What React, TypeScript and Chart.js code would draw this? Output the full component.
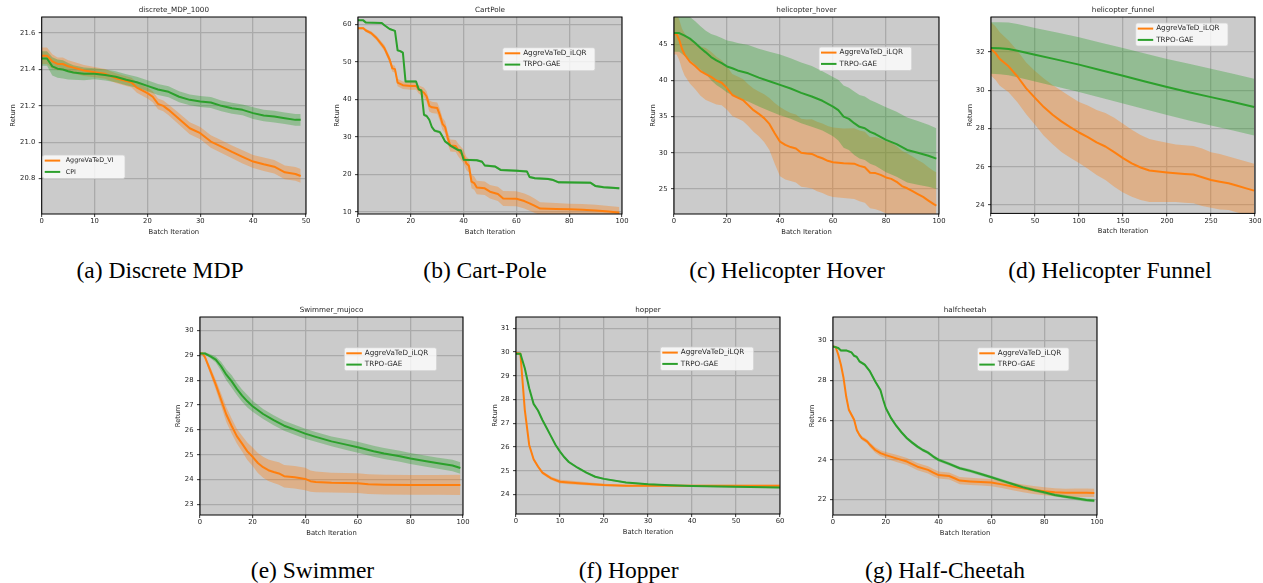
import { useEffect, useRef } from "react";
import { Chart, registerables } from "chart.js";

Chart.register(...registerables);

const ORANGE = "#ff7f0e";
const GREEN = "#2ca02c";
const ORANGE_BAND = "rgba(255,127,14,0.35)";
const GREEN_BAND = "rgba(44,160,44,0.35)";
const PLOT_BG = "#cbcbcb";
const GRID = "#aaaaaa";
const INK = "#262626";
const SANS = '"DejaVu Sans", "Liberation Sans", sans-serif';
const SERIF = '"Liberation Serif", "DejaVu Serif", serif';

// ---------- (a) discrete_MDP_1000 ----------
const aOrangeX = [0, 1, 2, 3, 4, 5, 6, 8, 10, 12, 14, 16, 17, 18, 20, 21, 22, 23, 24, 26, 28, 30, 32, 34, 36, 38, 40, 42, 44, 46, 48, 49];
const aOrangeY = [21.475, 21.475, 21.444, 21.43, 21.43, 21.417, 21.41, 21.394, 21.385, 21.376, 21.352, 21.336, 21.328, 21.3, 21.27, 21.25, 21.211, 21.2, 21.178, 21.128, 21.077, 21.05, 21.004, 20.976, 20.947, 20.92, 20.894, 20.879, 20.866, 20.835, 20.826, 20.815];
const aOrangeSd = [0.045, 0.045, 0.04, 0.035, 0.035, 0.033, 0.032, 0.03, 0.028, 0.027, 0.027, 0.027, 0.027, 0.028, 0.03, 0.03, 0.03, 0.03, 0.03, 0.032, 0.033, 0.034, 0.034, 0.035, 0.035, 0.036, 0.036, 0.037, 0.037, 0.038, 0.038, 0.038];
const aGreenX = [0, 1, 2, 3, 4, 5, 6, 8, 10, 12, 14, 16, 18, 20, 22, 24, 26, 28, 30, 32, 34, 36, 38, 40, 42, 44, 46, 48, 49];
const aGreenY = [21.46, 21.46, 21.417, 21.404, 21.4, 21.39, 21.383, 21.376, 21.376, 21.369, 21.36, 21.343, 21.33, 21.31, 21.29, 21.277, 21.25, 21.233, 21.224, 21.218, 21.2, 21.187, 21.178, 21.16, 21.147, 21.141, 21.132, 21.123, 21.123];
const aGreenSd = [0.04, 0.04, 0.05, 0.05, 0.05, 0.045, 0.04, 0.035, 0.03, 0.03, 0.03, 0.03, 0.03, 0.03, 0.03, 0.03, 0.03, 0.03, 0.03, 0.03, 0.03, 0.03, 0.03, 0.032, 0.032, 0.032, 0.032, 0.032, 0.032];

// ---------- (b) CartPole ----------
const bOrangeX = [0, 2, 3, 5, 7, 9, 10, 12, 13, 14, 15, 17, 20, 22, 23, 25, 26, 27, 28, 30, 31, 32, 33, 34, 35, 37, 38, 40, 41, 42, 43, 44, 45, 48, 50, 53, 55, 60, 63, 65, 67, 69, 75, 80, 85, 90, 95, 99];
const bOrangeY = [59, 59, 58.4, 57.7, 56.4, 54.6, 53.7, 50.6, 48.3, 48.1, 44.5, 43.8, 43.6, 43.6, 42.7, 41.8, 40.8, 38.3, 37.9, 37.7, 35.9, 33.5, 32.6, 29.7, 27.7, 27.6, 26.5, 24.8, 23.0, 22.3, 18.1, 17.7, 16.5, 16.3, 15.4, 14.8, 13.6, 13.5, 12.9, 12.3, 11.6, 10.9, 10.8, 10.7, 10.6, 10.4, 10.1, 9.8];
const bOrangeSd = [0.3, 0.3, 0.4, 0.5, 0.6, 0.7, 0.8, 0.9, 0.9, 0.9, 1.0, 1.0, 1.0, 1.0, 1.1, 1.3, 1.4, 1.5, 1.5, 1.5, 1.6, 1.6, 1.6, 1.6, 1.6, 1.6, 1.7, 1.8, 1.8, 1.8, 1.8, 1.8, 1.8, 1.8, 1.8, 1.9, 2.0, 2.0, 2.0, 2.0, 1.9, 1.7, 1.6, 1.5, 1.5, 1.5, 1.5, 1.5];
const bGreenX = [0, 2, 3, 9, 10, 12, 14, 15, 16, 17, 18, 22, 23, 24, 25, 26, 27, 28, 29, 31, 32, 33, 34, 35, 38, 39, 40, 45, 47, 48, 52, 54, 60, 64, 65, 67, 72, 74, 76, 88, 90, 93, 99];
const bGreenY = [61.1, 61.1, 60.5, 60.4, 59.8, 58.8, 58.3, 53.1, 52.9, 52.5, 44.8, 44.8, 42.7, 42.4, 35.9, 35.6, 34.6, 32.6, 31.7, 31.3, 30.1, 28.8, 28.3, 27.7, 26.5, 26.4, 23.9, 23.8, 23.4, 22.4, 22.1, 21.2, 21.0, 20.8, 19.3, 19.0, 18.8, 18.5, 17.9, 17.8, 16.9, 16.6, 16.3];
const bGreenSd = [0.2, 0.2, 0.2, 0.2, 0.2, 0.25, 0.25, 0.3, 0.3, 0.3, 0.3, 0.3, 0.3, 0.3, 0.35, 0.35, 0.35, 0.35, 0.35, 0.35, 0.35, 0.35, 0.35, 0.35, 0.35, 0.35, 0.3, 0.3, 0.3, 0.3, 0.3, 0.3, 0.3, 0.3, 0.3, 0.3, 0.3, 0.3, 0.3, 0.3, 0.3, 0.3, 0.3];

// ---------- (c) helicopter_hover ----------
const cOrangeX = [0, 1, 2, 3, 4, 6, 8, 10, 12, 14, 16, 18, 20, 22, 24, 26, 28, 30, 32, 34, 36, 38, 40, 42, 44, 46, 48, 50, 52, 54, 56, 58, 60, 64, 68, 70, 72, 74, 76, 78, 80, 82, 84, 86, 88, 90, 92, 94, 96, 98, 99];
const cOrangeY = [46.4, 46.4, 45.6, 44.4, 43.6, 42.6, 42.0, 41.3, 40.9, 40.5, 40.0, 39.7, 38.95, 38.0, 37.65, 37.3, 36.6, 35.9, 35.4, 34.8, 34.0, 32.7, 31.55, 31.1, 30.8, 30.6, 30.0, 29.9, 29.85, 29.5, 29.25, 28.9, 28.7, 28.55, 28.5, 28.2, 28.0, 27.25, 27.2, 26.95, 26.6, 26.4, 26.0, 25.4, 25.1, 24.7, 24.3, 23.9, 23.4, 22.9, 22.7];
const cOrangeSd = [2.8, 2.8, 2.8, 2.8, 2.9, 3.0, 3.2, 3.4, 3.6, 3.5, 3.3, 3.1, 3.0, 2.9, 2.9, 2.9, 2.9, 3.0, 3.1, 3.3, 3.6, 4.2, 4.8, 4.8, 4.7, 4.7, 4.7, 4.7, 4.8, 4.8, 4.8, 4.8, 4.8, 4.8, 4.9, 4.9, 4.9, 4.9, 5.0, 5.0, 5.0, 5.0, 4.9, 4.9, 4.8, 4.8, 4.7, 4.7, 4.6, 4.6, 4.6];
const cGreenX = [0, 2, 4, 6, 8, 10, 12, 14, 16, 18, 20, 22, 24, 28, 32, 36, 40, 44, 48, 52, 56, 60, 62, 64, 66, 68, 70, 72, 74, 76, 80, 84, 88, 92, 96, 99];
const cGreenY = [46.57, 46.57, 46.2, 45.8, 45.2, 44.5, 43.9, 43.25, 42.8, 42.4, 41.95, 41.7, 41.4, 41.0, 40.4, 39.9, 39.4, 38.9, 38.3, 37.8, 37.2, 36.4, 35.9, 35.0, 34.7, 34.1, 33.6, 33.4, 32.9, 32.6, 31.8, 31.2, 30.4, 30.0, 29.6, 29.2];
const cGreenSd = [2.6, 2.6, 2.8, 3.0, 3.0, 3.0, 3.0, 3.2, 3.4, 3.5, 3.6, 3.7, 3.8, 3.9, 4.0, 4.1, 4.2, 4.2, 4.2, 4.2, 4.1, 4.1, 4.2, 4.3, 4.3, 4.4, 4.4, 4.4, 4.4, 4.4, 4.5, 4.5, 4.5, 4.4, 4.3, 4.2];

// ---------- (d) helicopter_funnel ----------
const dOrangeX = [0, 5, 10, 20, 30, 40, 50, 60, 70, 80, 90, 100, 110, 120, 130, 140, 150, 160, 170, 180, 190, 200, 210, 220, 230, 240, 250, 260, 270, 280, 290, 299];
const dOrangeY = [32.16, 31.95, 31.63, 31.25, 30.72, 30.1, 29.6, 29.12, 28.72, 28.37, 28.07, 27.79, 27.55, 27.27, 27.06, 26.76, 26.45, 26.18, 25.96, 25.8, 25.75, 25.7, 25.66, 25.62, 25.59, 25.45, 25.31, 25.22, 25.14, 25.01, 24.87, 24.75];
const dOrangeSd = [1.4, 1.4, 1.4, 1.35, 1.35, 1.35, 1.4, 1.5, 1.55, 1.6, 1.6, 1.6, 1.65, 1.7, 1.75, 1.8, 1.8, 1.75, 1.7, 1.65, 1.6, 1.55, 1.5, 1.5, 1.5, 1.5, 1.45, 1.45, 1.4, 1.4, 1.4, 1.4];
const dGreenX = [0, 10, 20, 30, 50, 75, 100, 125, 150, 175, 200, 225, 250, 275, 299];
const dGreenY = [32.21, 32.2, 32.16, 32.07, 31.86, 31.6, 31.34, 31.05, 30.76, 30.46, 30.17, 29.9, 29.64, 29.38, 29.12];
const dGreenSd = [1.35, 1.36, 1.38, 1.39, 1.4, 1.42, 1.43, 1.44, 1.45, 1.46, 1.47, 1.48, 1.48, 1.48, 1.48];

// ---------- (e) Swimmer_mujoco ----------
const eOrangeX = [0, 1, 2, 4, 6, 8, 10, 12, 14, 16, 18, 20, 22, 24, 26, 28, 30, 32, 36, 40, 42, 44, 50, 60, 64, 70, 80, 90, 99];
const eOrangeY = [29.07, 29.07, 28.9, 28.36, 27.82, 27.22, 26.62, 26.17, 25.75, 25.45, 25.14, 24.92, 24.67, 24.5, 24.38, 24.31, 24.25, 24.14, 24.1, 24.03, 23.94, 23.91, 23.88, 23.86, 23.82, 23.8, 23.79, 23.79, 23.79];
const eOrangeSd = [0.05, 0.05, 0.08, 0.15, 0.2, 0.25, 0.3, 0.3, 0.3, 0.32, 0.35, 0.37, 0.4, 0.42, 0.43, 0.44, 0.45, 0.45, 0.45, 0.45, 0.43, 0.42, 0.4, 0.4, 0.4, 0.4, 0.4, 0.4, 0.41];
const eGreenX = [0, 2, 4, 6, 8, 10, 12, 14, 16, 18, 20, 24, 28, 32, 36, 40, 44, 50, 56, 60, 66, 70, 76, 80, 86, 90, 96, 99];
const eGreenY = [29.07, 29.07, 28.96, 28.83, 28.56, 28.22, 27.96, 27.65, 27.38, 27.15, 26.95, 26.64, 26.39, 26.17, 26.01, 25.85, 25.72, 25.54, 25.4, 25.3, 25.14, 25.05, 24.94, 24.85, 24.74, 24.67, 24.57, 24.47];
const eGreenSd = [0.03, 0.05, 0.08, 0.12, 0.18, 0.22, 0.25, 0.25, 0.25, 0.25, 0.22, 0.2, 0.2, 0.2, 0.2, 0.2, 0.2, 0.2, 0.22, 0.22, 0.22, 0.22, 0.22, 0.22, 0.22, 0.22, 0.23, 0.23];

// ---------- (f) hopper ----------
const fOrangeX = [0, 1, 2, 3, 4, 5, 6, 8, 10, 12, 15, 20, 25, 30, 40, 50, 60];
const fOrangeY = [29.96, 29.93, 27.57, 26.09, 25.49, 25.18, 24.92, 24.68, 24.54, 24.51, 24.47, 24.4, 24.37, 24.37, 24.37, 24.37, 24.37];
const fOrangeSd = [0.05, 0.05, 0.08, 0.08, 0.07, 0.06, 0.06, 0.07, 0.08, 0.08, 0.07, 0.05, 0.04, 0.04, 0.04, 0.04, 0.04];
const fGreenX = [0, 1, 2, 3, 4, 5, 6, 7, 8, 9, 10, 11, 12, 14, 16, 18, 20, 25, 30, 35, 40, 50, 60];
const fGreenY = [29.93, 29.93, 29.32, 28.48, 27.82, 27.54, 27.14, 26.79, 26.44, 26.09, 25.81, 25.57, 25.37, 25.13, 24.92, 24.75, 24.66, 24.51, 24.43, 24.39, 24.36, 24.33, 24.3];
const fGreenSd = [0.03, 0.03, 0.04, 0.05, 0.05, 0.05, 0.05, 0.05, 0.05, 0.05, 0.05, 0.05, 0.05, 0.04, 0.04, 0.04, 0.04, 0.03, 0.03, 0.03, 0.03, 0.03, 0.03];

// ---------- (g) halfcheetah ----------
const gOrangeX = [0, 1, 2, 3, 4, 5, 6, 7, 8, 9, 10, 11, 12, 13, 14, 16, 18, 20, 24, 28, 32, 36, 38, 40, 44, 46, 48, 52, 56, 60, 64, 68, 72, 76, 80, 84, 88, 92, 96, 99];
const gOrangeY = [29.71, 29.68, 29.29, 28.79, 28.12, 27.19, 26.52, 26.27, 26.02, 25.51, 25.26, 25.09, 25.01, 24.92, 24.76, 24.5, 24.34, 24.24, 24.08, 23.92, 23.66, 23.5, 23.36, 23.24, 23.19, 23.08, 22.96, 22.92, 22.89, 22.86, 22.77, 22.66, 22.57, 22.49, 22.42, 22.37, 22.35, 22.35, 22.35, 22.34];
const gOrangeSd = [0.03, 0.03, 0.05, 0.07, 0.08, 0.1, 0.1, 0.1, 0.1, 0.1, 0.1, 0.1, 0.1, 0.1, 0.12, 0.14, 0.15, 0.16, 0.18, 0.18, 0.18, 0.18, 0.18, 0.18, 0.18, 0.18, 0.18, 0.18, 0.18, 0.18, 0.18, 0.19, 0.19, 0.2, 0.2, 0.2, 0.2, 0.21, 0.21, 0.21];
const gGreenX = [0, 2, 3, 5, 7, 8, 9, 10, 12, 14, 16, 18, 19, 20, 22, 24, 26, 28, 30, 32, 34, 36, 38, 40, 44, 48, 52, 56, 60, 64, 68, 72, 76, 80, 84, 88, 92, 96, 99];
const gGreenY = [29.71, 29.63, 29.51, 29.51, 29.41, 29.24, 29.18, 28.96, 28.79, 28.45, 27.95, 27.5, 27.03, 26.61, 26.1, 25.71, 25.38, 25.09, 24.87, 24.67, 24.5, 24.37, 24.17, 24.0, 23.8, 23.58, 23.45, 23.29, 23.13, 22.96, 22.79, 22.62, 22.49, 22.37, 22.24, 22.15, 22.07, 21.98, 21.95];
const gGreenSd = [0.03, 0.04, 0.05, 0.05, 0.06, 0.06, 0.06, 0.07, 0.07, 0.07, 0.08, 0.08, 0.08, 0.08, 0.08, 0.08, 0.08, 0.08, 0.08, 0.08, 0.08, 0.08, 0.08, 0.08, 0.08, 0.08, 0.08, 0.08, 0.08, 0.08, 0.08, 0.08, 0.08, 0.08, 0.08, 0.08, 0.08, 0.08, 0.08];

type Series = { name: string; color: string; band: string; x: number[]; y: number[]; sd: number[] };
type Panel = {
  title: string;
  caption: string;
  captionX: number;
  captionY: number;
  plot: [number, number, number, number];
  labelX: number;
  xMax: number;
  xStep: number;
  yMin: number;
  yMax: number;
  yStep: number;
  yDec: number;
  legend: { x: number; y: number; w: number; h: number; font: number; text: number };
  series: Series[];
};

const orange = (name: string, x: number[], y: number[], sd: number[]): Series => ({ name, color: ORANGE, band: ORANGE_BAND, x, y, sd });
const green = (name: string, x: number[], y: number[], sd: number[]): Series => ({ name, color: GREEN, band: GREEN_BAND, x, y, sd });

const PANELS: Panel[] = [
  {
    title: "discrete_MDP_1000", caption: "(a) Discrete MDP", captionX: 160, captionY: 259,
    plot: [41.7, 17, 306, 214], labelX: 13.3,
    xMax: 50, xStep: 10, yMin: 20.606, yMax: 21.688, yStep: 0.2, yDec: 1,
    legend: { x: 42.7, y: 155, w: 82.3, h: 23.5, font: 6.4, text: 23 },
    series: [orange("AggreVaTeD_VI", aOrangeX, aOrangeY, aOrangeSd), green("CPI", aGreenX, aGreenY, aGreenSd)],
  },
  {
    title: "CartPole", caption: "(b) Cart-Pole", captionX: 485, captionY: 259,
    plot: [358, 17, 622, 214], labelX: 336.7,
    xMax: 100, xStep: 20, yMin: 9.45, yMax: 62, yStep: 10, yDec: 0,
    legend: { x: 502.7, y: 47.7, w: 92.3, h: 23, font: 7.2, text: 20.5 },
    series: [orange("AggreVaTeD_iLQR", bOrangeX, bOrangeY, bOrangeSd), green("TRPO-GAE", bGreenX, bGreenY, bGreenSd)],
  },
  {
    title: "helicopter_hover", caption: "(c) Helicopter Hover", captionX: 787, captionY: 259,
    plot: [674, 17, 939, 214], labelX: 652.7,
    xMax: 100, xStep: 20, yMin: 21.54, yMax: 48.79, yStep: 5, yDec: 0,
    legend: { x: 819, y: 47, w: 92.7, h: 23.5, font: 7.2, text: 20.5 },
    series: [orange("AggreVaTeD_iLQR", cOrangeX, cOrangeY, cOrangeSd), green("TRPO-GAE", cGreenX, cGreenY, cGreenSd)],
  },
  {
    title: "helicopter_funnel", caption: "(d) Helicopter Funnel", captionX: 1110, captionY: 259,
    plot: [991, 17, 1255, 213.4], labelX: 970,
    xMax: 300, xStep: 50, yMin: 23.56, yMax: 33.83, yStep: 2, yDec: 0,
    legend: { x: 1135.7, y: 23, w: 92.3, h: 23, font: 7.2, text: 20.5 },
    series: [orange("AggreVaTeD_iLQR", dOrangeX, dOrangeY, dOrangeSd), green("TRPO-GAE", dGreenX, dGreenY, dGreenSd)],
  },
  {
    title: "Swimmer_mujoco", caption: "(e) Swimmer", captionX: 312.5, captionY: 559,
    plot: [200, 317, 463, 515], labelX: 178,
    xMax: 100, xStep: 20, yMin: 22.58, yMax: 30.54, yStep: 1, yDec: 0,
    legend: { x: 344.3, y: 347.7, w: 92.3, h: 23, font: 7.2, text: 20.5 },
    series: [orange("AggreVaTeD_iLQR", eOrangeX, eOrangeY, eOrangeSd), green("TRPO-GAE", eGreenX, eGreenY, eGreenSd)],
  },
  {
    title: "hopper", caption: "(f) Hopper", captionX: 628.7, captionY: 559,
    plot: [516, 317, 780, 514], labelX: 495,
    xMax: 60, xStep: 10, yMin: 23.18, yMax: 31.48, yStep: 1, yDec: 0,
    legend: { x: 660.3, y: 347, w: 93.3, h: 23.5, font: 7.2, text: 20.5 },
    series: [orange("AggreVaTeD_iLQR", fOrangeX, fOrangeY, fOrangeSd), green("TRPO-GAE", fGreenX, fGreenY, fGreenSd)],
  },
  {
    title: "halfcheetah", caption: "(g) Half-Cheetah", captionX: 945, captionY: 559,
    plot: [833, 317, 1097, 515], labelX: 811.7,
    xMax: 100, xStep: 20, yMin: 21.23, yMax: 31.19, yStep: 2, yDec: 0,
    legend: { x: 977.3, y: 347.7, w: 91.7, h: 23.3, font: 7.2, text: 20.5 },
    series: [orange("AggreVaTeD_iLQR", gOrangeX, gOrangeY, gOrangeSd), green("TRPO-GAE", gGreenX, gGreenY, gGreenSd)],
  },
];

const TOP_PAD = 17;
const X_AXIS_H = 22;

function PanelChart({ p }: { p: Panel }) {
  const ref = useRef<HTMLCanvasElement>(null);
  const [L, T, R, B] = p.plot;
  const canvasLeft = Math.round(p.labelX - 4);
  const canvasTop = T - TOP_PAD;
  const width = Math.ceil(R + 7.5 - canvasLeft);
  const plotH = B - T;
  const height = Math.round(TOP_PAD + plotH + X_AXIS_H);
  const yAxisW = L - canvasLeft;
  const xAxisH = height - TOP_PAD - plotH;
  const padRight = width - (R - canvasLeft);

  useEffect(() => {
    const canvas = ref.current;
    if (!canvas) return;
    const meanLine = (s: Series) => ({
      data: s.x.map((x, i) => ({ x, y: s.y[i] })),
      borderColor: s.color,
      borderWidth: 2,
      borderJoinStyle: "round" as const,
      pointRadius: 0,
      pointHitRadius: 0,
      fill: false,
      tension: 0,
    });
    const bandEdge = (s: Series, sign: number, filled: boolean) => ({
      data: s.x.map((x, i) => ({ x, y: s.y[i] + sign * s.sd[i] })),
      borderColor: "rgba(0,0,0,0)",
      borderWidth: 0.01,
      pointRadius: 0,
      pointHitRadius: 0,
      backgroundColor: s.band,
      fill: filled ? "+1" : false,
      tension: 0,
      clip: 0,
    });
    const [so, sg] = p.series;
    const datasets: any[] = [
      meanLine(sg),
      meanLine(so),
      bandEdge(sg, 1, true),
      bandEdge(sg, -1, false),
      bandEdge(so, 1, true),
      bandEdge(so, -1, false),
    ];

    const decor = {
      id: "panelDecor",
      beforeDraw(chart: any) {
        const { ctx, chartArea: a } = chart;
        ctx.save();
        ctx.fillStyle = PLOT_BG;
        ctx.fillRect(a.left, a.top, a.right - a.left, a.bottom - a.top);
        ctx.restore();
      },
      afterDraw(chart: any) {
        const { ctx, chartArea: a } = chart;
        ctx.save();
        ctx.strokeStyle = "#000";
        ctx.lineWidth = 1;
        ctx.strokeRect(a.left, a.top, a.right - a.left, a.bottom - a.top);

        ctx.fillStyle = INK;
        ctx.font = `7.2px ${SANS}`;
        ctx.textAlign = "center";
        ctx.textBaseline = "middle";
        ctx.fillText(p.title, (a.left + a.right) / 2, a.top - 6.7);

        const lg = p.legend;
        const bx = lg.x - canvasLeft;
        const by = lg.y - canvasTop;
        const r = 2;
        ctx.beginPath();
        ctx.moveTo(bx + r, by);
        ctx.lineTo(bx + lg.w - r, by);
        ctx.arcTo(bx + lg.w, by, bx + lg.w, by + r, r);
        ctx.lineTo(bx + lg.w, by + lg.h - r);
        ctx.arcTo(bx + lg.w, by + lg.h, bx + lg.w - r, by + lg.h, r);
        ctx.lineTo(bx + r, by + lg.h);
        ctx.arcTo(bx, by + lg.h, bx, by + lg.h - r, r);
        ctx.lineTo(bx, by + r);
        ctx.arcTo(bx, by, bx + r, by, r);
        ctx.closePath();
        ctx.fillStyle = "rgba(255,255,255,0.8)";
        ctx.fill();
        ctx.strokeStyle = "#d0d0d0";
        ctx.lineWidth = 0.8;
        ctx.stroke();

        p.series.forEach((s, i) => {
          const ry = by + 5.6 + i * 11.3;
          ctx.strokeStyle = s.color;
          ctx.lineWidth = 2;
          ctx.beginPath();
          ctx.moveTo(bx + 2, ry);
          ctx.lineTo(bx + 17.5, ry);
          ctx.stroke();
          ctx.fillStyle = INK;
          ctx.font = `${lg.font}px ${SANS}`;
          ctx.textAlign = "left";
          ctx.textBaseline = "middle";
          ctx.fillText(s.name, bx + lg.text, ry);
        });
        ctx.restore();
      },
    };

    const tickFont = { family: SANS, size: 6.8 };
    const chart = new Chart(canvas, {
      type: "line",
      data: { datasets },
      options: {
        animation: false,
        responsive: false,
        devicePixelRatio: 1,
        layout: { padding: { left: 0, top: TOP_PAD, right: padRight, bottom: 0 } },
        plugins: {
          legend: { display: false },
          tooltip: { enabled: false },
          title: { display: false },
        },
        scales: {
          x: {
            type: "linear",
            min: 0,
            max: p.xMax,
            ticks: {
              stepSize: p.xStep,
              includeBounds: false,
              autoSkip: false,
              maxRotation: 0,
              minRotation: 0,
              padding: 0.5,
              color: INK,
              font: tickFont,
              callback: (v: any) => String(v),
            },
            grid: { color: GRID, lineWidth: 1.3, tickLength: 3, tickColor: "#000", tickWidth: 0.8 },
            border: { display: false },
            title: { display: true, text: "Batch Iteration", color: INK, font: tickFont, padding: 0 },
            afterFit: (s: any) => {
              s.height = xAxisH;
            },
          },
          y: {
            type: "linear",
            min: p.yMin,
            max: p.yMax,
            ticks: {
              stepSize: p.yStep,
              includeBounds: false,
              autoSkip: false,
              padding: 3.5,
              color: INK,
              font: tickFont,
              callback: (v: any) => Number(v).toFixed(p.yDec),
            },
            grid: { color: GRID, lineWidth: 1.3, tickLength: 3, tickColor: "#000", tickWidth: 0.8 },
            border: { display: false },
            title: { display: true, text: "Return", color: INK, font: tickFont, padding: 0 },
            afterFit: (s: any) => {
              s.width = yAxisW;
            },
          },
        },
      } as any,
      plugins: [decor],
    });
    return () => chart.destroy();
  }, []);

  return (
    <canvas
      ref={ref}
      width={width}
      height={height}
      style={{ position: "absolute", left: canvasLeft, top: canvasTop, width, height }}
    />
  );
}

export default function App() {
  return (
    <div
      style={{
        position: "absolute",
        left: 0,
        top: 0,
        width: 1263,
        height: 583,
        overflow: "hidden",
        background: "#ffffff",
      }}
    >
      {PANELS.map((p) => (
        <PanelChart key={p.title} p={p} />
      ))}
      {PANELS.map((p) => (
        <div
          key={p.caption}
          style={{
            position: "absolute",
            left: p.captionX,
            top: p.captionY,
            transform: "translateX(-50%)",
            whiteSpace: "nowrap",
            fontFamily: SERIF,
            fontSize: 23.5,
            lineHeight: 1,
            color: "#000",
          }}
        >
          {p.caption}
        </div>
      ))}
    </div>
  );
}
